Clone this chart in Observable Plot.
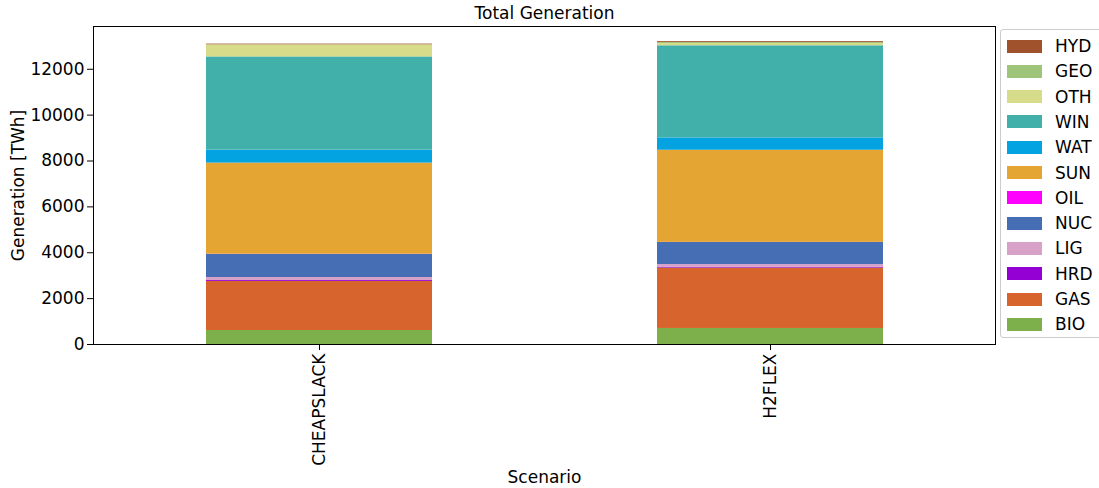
<!DOCTYPE html>
<html>
<head>
<meta charset="utf-8">
<script src="https://cdn.jsdelivr.net/npm/d3@7"></script>
<script src="https://cdn.jsdelivr.net/npm/@observablehq/plot@0.6"></script>
<style>
  html, body { margin: 0; padding: 0; background: #fff; }
  #chart { position: relative; width: 1099px; height: 488px; font-family: "DejaVu Sans", sans-serif; color: #000; }
  #legend { position: absolute; left: 1000px; top: 29px; width: 110px; height: 309px;
            border: 1px solid #ccc; border-radius: 3px; box-sizing: border-box; background: #fff; }
  .row { position: absolute; left: 0; height: 20px; display: flex; align-items: center; font-size: 17px; }
  .sw { width: 35px; height: 13px; margin-left: 6px; margin-right: 13px; }
</style>
</head>
<body>
<div id="chart"></div>
<script>
// Scenarios on the x axis
const scenarios = ["CHEAPSLACK", "H2FLEX"];
// Generation technologies, bottom of the stack first
const carriers = ["BIO", "GAS", "HRD", "LIG", "NUC", "OIL", "SUN", "WAT", "WIN", "OTH", "GEO", "HYD"];
// Annual generation per technology [TWh]
const cheapslack = [611, 2140, 40, 130, 1004, 10, 3974, 568, 4061, 524, 5, 30];
const h2flex     = [699, 2633, 40, 115, 961, 5, 4017, 537, 4017, 100, 40, 40];
// Technology colours, same order as carriers
const colors = ["#7daf4a", "#d8642d", "#9400d3", "#d8a2c8", "#466eb4", "#ff00ff",
                "#e5a533", "#02a3e0", "#42b0aa", "#d6dc8a", "#9fc57a", "#a0522d"];
// Y axis tick values
const yTicks = [0, 2000, 4000, 6000, 8000, 10000, 12000];

const series = [cheapslack, h2flex];
const rows = [];
scenarios.forEach((s, i) => carriers.forEach((c, j) => rows.push({scenario: s, carrier: c, value: series[i][j]})));

const maxTotal = d3.max(series, v => d3.sum(v));

const plot = Plot.plot({
  width: 1099,
  height: 488,
  marginLeft: 93,
  marginRight: 104,
  marginTop: 26,
  marginBottom: 144,
  style: { fontFamily: "DejaVu Sans, sans-serif", fontSize: "17px", color: "#000", background: "#fff" },
  x: {
    domain: scenarios,
    paddingInner: 0.5,
    paddingOuter: 0.25,
    tickRotate: -90,
    tickSize: 6,
    tickPadding: 3,
    label: "Scenario",
    labelAnchor: "center",
    labelArrow: "none",
    labelOffset: 138
  },
  y: {
    domain: [0, maxTotal * 1.05],
    ticks: yTicks,
    tickFormat: d3.format("d"),
    tickSize: 6,
    tickPadding: 3,
    label: "Generation [TWh]",
    labelAnchor: "center",
    labelArrow: "none",
    labelOffset: 82
  },
  color: { domain: carriers, range: colors },
  marks: [
    Plot.barY(rows, { x: "scenario", y: "value", fill: "carrier" }),
    Plot.frame({ stroke: "#000", strokeWidth: 1 }),
    Plot.text(["Total Generation"], { text: d => d, frameAnchor: "top", lineAnchor: "middle", dy: -13, fontSize: 17 })
  ]
});
document.getElementById("chart").appendChild(plot);

// Legend: top of the stack listed first
const legend = d3.select("#chart").append("div").attr("id", "legend");
carriers.slice().reverse().forEach((c, i) => {
  const row = legend.append("div").attr("class", "row").style("top", (6 + i * 25.3) + "px");
  row.append("div").attr("class", "sw").style("background", colors[carriers.indexOf(c)]);
  row.append("span").text(c);
});
</script>
</body>
</html>
